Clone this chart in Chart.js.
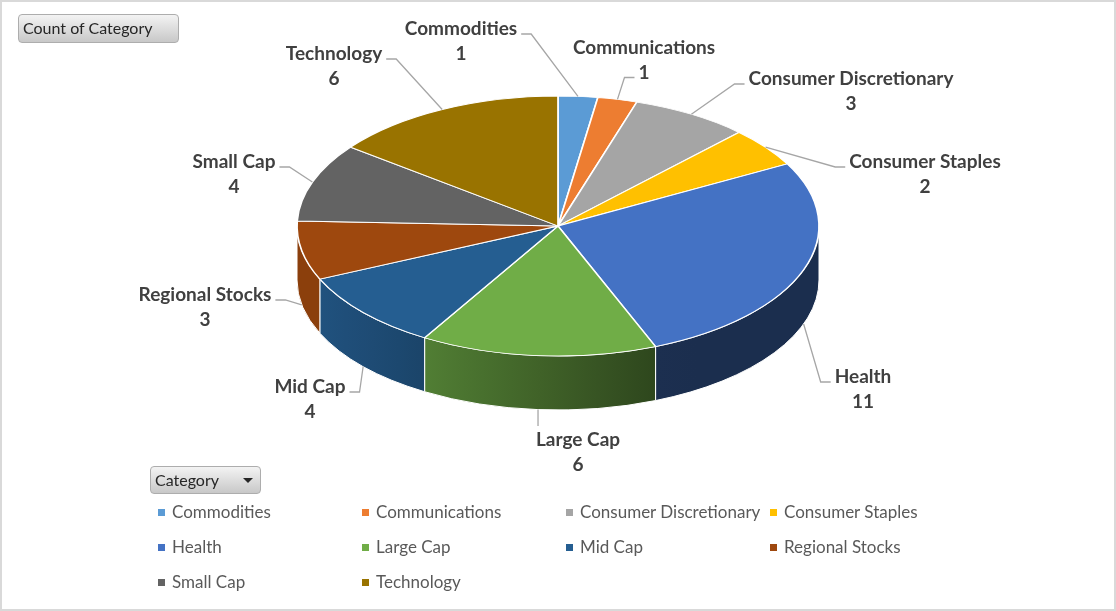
<!DOCTYPE html>
<html>
<head>
<meta charset="utf-8">
<script src="https://cdn.jsdelivr.net/npm/chart.js@4.4.1/dist/chart.umd.min.js"></script>
<style>
  body { margin: 0; background: #fff; }
  #wrap { position: relative; width: 1116px; height: 611px; overflow: hidden; font-family: Lato, "Open Sans", sans-serif; }
  #c { position: absolute; left: 0; top: 0; }
  #frame { position: absolute; left: 0; top: 0; width: 1116px; height: 611px; box-sizing: border-box; border: 2px solid #d9d9d9; pointer-events: none; }
  .btn { position: absolute; box-sizing: border-box; background: linear-gradient(#f3f3f3, #c8c8c8); border: 1px solid #adadad; border-radius: 4px; color: #262626; font-size: 16px; line-height: 26px; padding-left: 4px; }
  #countBtn { left: 18px; top: 14px; width: 161px; height: 29px; }
  #catBtn { left: 150px; top: 466px; width: 111px; height: 28px; }
  #catBtn::after { content: ""; position: absolute; left: 92px; top: 11px; border-left: 5px solid transparent; border-right: 5px solid transparent; border-top: 5px solid #262626; }
  #legend { position: absolute; left: 158px; top: 500px; }
  .item { position: absolute; white-space: nowrap; font-size: 17px; line-height: 24px; color: #595959; }
  .sw { display: inline-block; width: 7px; height: 7px; margin-right: 7px; vertical-align: 2px; }
</style>
</head>
<body>
<div id="wrap">
  <canvas id="c" width="1116" height="611"></canvas>
  <div class="btn" id="countBtn">Count of Category</div>
  <div class="btn" id="catBtn">Category</div>
  <div id="legend"></div>
  <div id="frame"></div>
</div>
<script>
const categories = ['Commodities', 'Communications', 'Consumer Discretionary', 'Consumer Staples', 'Health',
  'Large Cap', 'Mid Cap', 'Regional Stocks', 'Small Cap', 'Technology'];
const counts = [1, 1, 3, 2, 11, 6, 4, 3, 4, 6];
const sliceColors = ['#5B9BD5', '#ED7D31', '#A5A5A5', '#FFC000', '#4472C4',
  '#70AD47', '#255E91', '#9E480E', '#636363', '#997300'];

// tilted pie on the page: centre, radii of the top face, thickness
const PIE = { cx: 558, cy: 226, rx: 261, ry: 130, depth: 54 };
// centre of the first line of each data label
const labelSpots = [[461, 29], [644, 48], [851, 79], [925, 162], [863, 377],
  [578, 440], [310, 387], [205, 295], [234, 162], [334, 54]];
const LINE = 24.5;

function shade(hex, f) {
  const n = parseInt(hex.slice(1), 16);
  const r = Math.round(((n >> 16) & 255) * f);
  const g = Math.round(((n >> 8) & 255) * f);
  const b = Math.round((n & 255) * f);
  return 'rgb(' + r + ',' + g + ',' + b + ')';
}

// side walls get darker towards the right
function sideLight(x) {
  const u = (x - PIE.cx) / PIE.rx;
  return Math.min(0.88, Math.max(0.4, 0.87 - 0.46 * (u + 0.91) / 1.28));
}

const pie3d = {
  id: 'pie3d',
  beforeDatasetsDraw(chart) {
    const ctx = chart.ctx;
    const arcs = chart.getDatasetMeta(0).data;
    const { cx, cy, rx, ry, depth } = PIE;

    arcs.forEach((arc, i) => {
      const s = Math.max(arc.startAngle, 0);
      const e = Math.min(arc.endAngle, Math.PI);
      if (e <= s) return;
      const xr = cx + rx * Math.cos(s);
      const xl = cx + rx * Math.cos(e);
      const grad = ctx.createLinearGradient(xl, 0, xr, 0);
      for (let k = 0; k <= 4; k++) {
        grad.addColorStop(k / 4, shade(sliceColors[i], sideLight(xl + (xr - xl) * k / 4)));
      }
      ctx.beginPath();
      ctx.ellipse(cx, cy, rx, ry, 0, s, e);
      ctx.ellipse(cx, cy + depth, rx, ry, 0, e, s, true);
      ctx.closePath();
      ctx.fillStyle = grad;
      ctx.fill();
      ctx.strokeStyle = '#ffffff';
      ctx.lineWidth = 1;
      ctx.stroke();
    });

    // squash the flat pie into the top face
    const a = arcs[0];
    ctx.save();
    ctx.translate(cx, cy);
    ctx.scale(rx / a.outerRadius, ry / a.outerRadius);
    ctx.translate(-a.x, -a.y);
  },
  afterDatasetsDraw(chart) {
    const ctx = chart.ctx;
    ctx.restore();
    const arcs = chart.getDatasetMeta(0).data;
    const { cx, cy, rx, ry, depth } = PIE;

    ctx.save();
    ctx.font = 'bold 19px Lato';
    ctx.textAlign = 'center';
    ctx.textBaseline = 'middle';
    arcs.forEach((arc, i) => {
      const m = (arc.startAngle + arc.endAngle) / 2;
      const ax = cx + rx * Math.cos(m);
      const ay = cy + ry * Math.sin(m) + (Math.sin(m) > 0 ? depth : 0);
      const [tx, ty] = labelSpots[i];
      const lines = [categories[i], String(counts[i])];
      const w0 = ctx.measureText(lines[0]).width / 2;
      const w1 = ctx.measureText(lines[1]).width / 2;

      let pts;
      if (ay < ty && Math.abs(ax - tx) <= w0 + 6) {
        pts = [[ax, ay], [ax, ty - 14]];
      } else {
        const side = ax > tx ? 1 : -1;
        let ex, ey;
        if (Math.abs(ax - tx) > w0) { ex = tx + side * (w0 + 4); ey = ty + 5; }
        else { ex = tx + side * (w1 + 4); ey = ty + LINE + 5; }
        pts = [[ex, ey], [ex + side * 10, ey], [ax, ay]];
      }
      ctx.beginPath();
      pts.forEach((p, k) => k ? ctx.lineTo(p[0], p[1]) : ctx.moveTo(p[0], p[1]));
      ctx.strokeStyle = '#a6a6a6';
      ctx.lineWidth = 1.3;
      ctx.stroke();

      ctx.fillStyle = '#404040';
      lines.forEach((t, k) => ctx.fillText(t, tx, ty + k * LINE));
    });
    ctx.restore();
  }
};

new Chart(document.getElementById('c'), {
  type: 'pie',
  data: {
    labels: categories,
    datasets: [{
      data: counts,
      backgroundColor: sliceColors,
      borderColor: '#ffffff',
      borderWidth: 2
    }]
  },
  options: {
    responsive: false,
    animation: false,
    events: [],
    plugins: { legend: { display: false }, tooltip: { enabled: false } }
  },
  plugins: [pie3d]
});

// legend in the Excel grid
const legend = document.getElementById('legend');
categories.forEach((name, i) => {
  const item = document.createElement('div');
  item.className = 'item';
  item.style.left = (i % 4) * 204 + 'px';
  item.style.top = Math.floor(i / 4) * 35 + 'px';
  const sw = document.createElement('span');
  sw.className = 'sw';
  sw.style.background = sliceColors[i];
  item.appendChild(sw);
  item.appendChild(document.createTextNode(name));
  legend.appendChild(item);
});
</script>
</body>
</html>
